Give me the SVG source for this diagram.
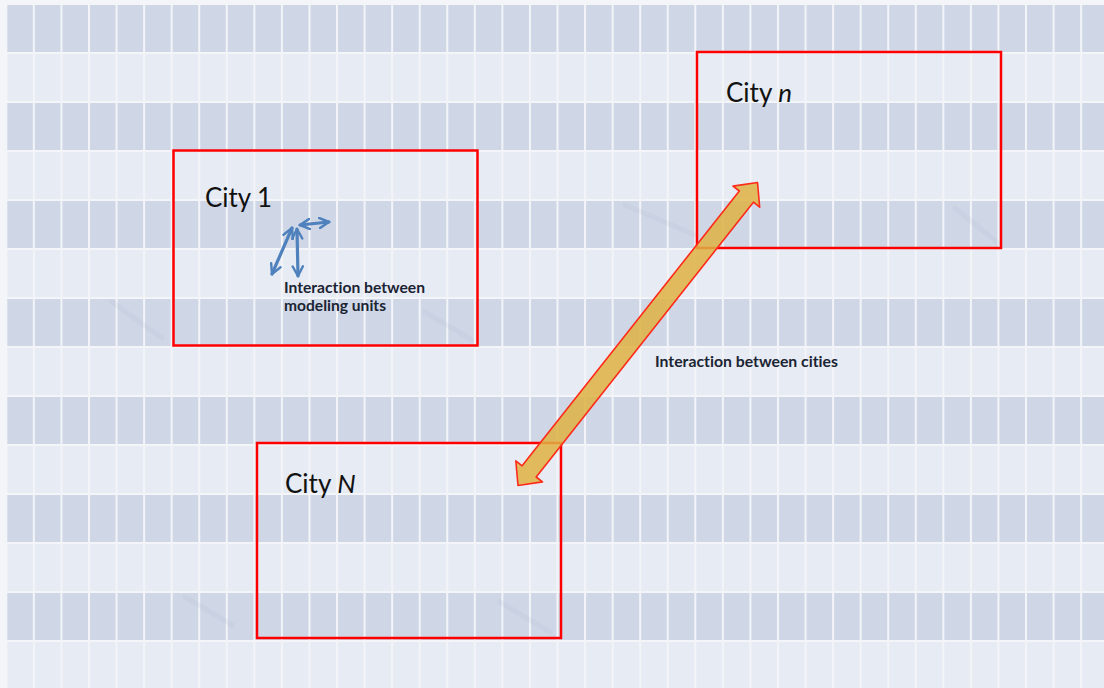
<svg xmlns="http://www.w3.org/2000/svg" width="1104" height="688" viewBox="0 0 1104 688">
<style>
.box{fill:none;stroke:#ff0000;stroke-width:2.5}
.city{font-family:Lato,"Open Sans","Liberation Sans",sans-serif;font-size:26px;fill:#111;font-variant-ligatures:none}
.lbl{font-family:Lato,"Open Sans","Liberation Sans",sans-serif;font-size:15px;font-weight:bold;fill:#1b2433;font-variant-ligatures:none}
.blue{fill:none;stroke:#4f81bd;stroke-width:3.2;stroke-linecap:round;marker-start:url(#bh);marker-end:url(#bh)}
.streak{stroke:#9aa4b8;stroke-width:5;stroke-linecap:round;opacity:0.1}
</style>
<defs>
<pattern id="rows" patternUnits="userSpaceOnUse" x="0" y="5" width="1104" height="98">
<rect x="0" y="0" width="1104" height="47" fill="#cfd7e7"/>
<rect x="0" y="49" width="1104" height="47" fill="#e7ebf3"/>
</pattern>
<pattern id="cols" patternUnits="userSpaceOnUse" x="5.3" y="0" width="27.56" height="688">
<rect x="0" y="0" width="2" height="688" fill="#f2f4f8"/>
</pattern>
<marker id="bh" viewBox="0 0 10 10" refX="8.5" refY="5" markerWidth="4" markerHeight="4" orient="auto-start-reverse" markerUnits="strokeWidth">
<path d="M1,1 L8.5,5 L1,9" fill="none" stroke="#4f81bd" stroke-width="1.9" stroke-linecap="round" stroke-linejoin="round"/>
</marker>
</defs>
<g id="background">
<rect x="0" y="0" width="1104" height="688" fill="#f3f5f9"/>
<rect x="7" y="5" width="1097" height="683" fill="url(#rows)"/>
<rect x="5.3" y="0" width="1098.7" height="688" fill="url(#cols)"/>
<rect x="0" y="0" width="7" height="688" fill="#f3f5f9"/>
<rect x="0" y="0" width="1104" height="5" fill="#f3f5f9"/>
<line class="streak" x1="625" y1="205" x2="695" y2="235"/>
<line class="streak" x1="955" y1="208" x2="998" y2="243"/>
<line class="streak" x1="112" y1="302" x2="162" y2="338"/>
<line class="streak" x1="425" y1="312" x2="472" y2="340"/>
<line class="streak" x1="185" y1="597" x2="232" y2="625"/>
<line class="streak" x1="500" y1="602" x2="550" y2="632"/>
</g>
<g id="city-1">
<rect class="box" x="173.5" y="150.5" width="304" height="195"/>
<text class="city" x="205" y="207" textLength="67" lengthAdjust="spacingAndGlyphs">City 1</text>
<text class="lbl" x="284" y="292.5" textLength="141" lengthAdjust="spacingAndGlyphs">Interaction between</text>
<text class="lbl" x="284" y="310.5" textLength="102" lengthAdjust="spacingAndGlyphs">modeling units</text>
</g>
<g id="city-n">
<rect class="box" x="697" y="52" width="304" height="196"/>
<text class="city" x="726" y="102">City <tspan font-style="italic">n</tspan></text>
</g>
<g id="city-N">
<rect class="box" x="257" y="443" width="304" height="195"/>
<text class="city" x="285" y="493">City <tspan font-style="italic">N</tspan></text>
</g>
<g id="connectors">
<path class="blue" d="M300,225 L329,222"/>
<path class="blue" d="M292,228 L272,274"/>
<path class="blue" d="M297,229 L298,276"/>
<polygon id="city-arrow" points="518,485.5 542.5,481.9 536.2,477.0 753.4,202.2 759.7,207.2 757.5,182.5 733.0,186.1 739.3,191.0 522.1,465.8 515.8,460.8" fill="#deb142" fill-opacity="0.85" stroke="#ff2a1a" stroke-width="1.6" stroke-linejoin="round"/>
<text class="lbl" x="655" y="367" textLength="183" lengthAdjust="spacingAndGlyphs">Interaction between cities</text>
</g>
</svg>
